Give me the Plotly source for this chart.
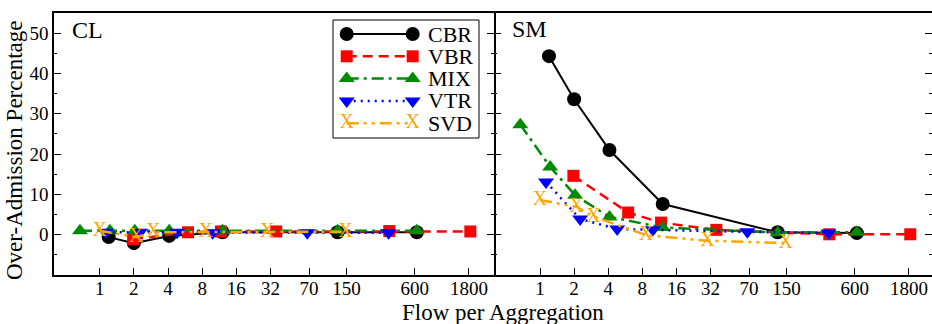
import plotly.graph_objects as go

# ---------------- data ----------------
tick_vals = [1, 2, 4, 8, 16, 32, 70, 150, 600, 1800]
tick_text = ["1", "2", "4", "8", "16", "32", "70", "150", "600", "1800"]

series_names = ["CBR", "VBR", "MIX", "VTR", "SVD"]

x_cbr = [1.2, 2.0, 4.1, 12.1, 125, 625]
x_vbr = [1.97, 6.0, 11.7, 36, 357, 1850]
x_mix = [0.67, 1.23, 2.04, 4.1, 12.1, 125, 625]
x_vtr = [1.13, 2.26, 4.8, 9.9, 67.6, 352]
x_svd = [1.0, 2.1, 2.97, 8.6, 30, 147]

# CL panel
cl_cbr = [-0.6, -2.1, -0.3, 0.6, 0.6, 0.6]
cl_vbr = [-1.1, 0.6, 0.8, 0.8, 0.9, 0.8]
cl_mix = [1.0, 1.0, 1.0, 1.0, 1.0, 1.0, 1.0]
cl_vtr = [0.6, 0.6, 0.6, 0.5, 0.5, 0.5]
cl_svd = [1.0, -0.6, 0.6, 0.6, 0.75, 0.75]

# SM panel
sm_cbr = [44.3, 33.6, 21.0, 7.6, 0.6, 0.4]
sm_vbr = [14.6, 5.5, 3.0, 1.2, 0.1, 0.1]
sm_mix = [27.3, 16.8, 9.8, 4.4, 1.8, 0.5, 0.6]
sm_vtr = [13.1, 3.9, 1.4, 1.2, 0.7, 0.45]
sm_svd = [8.6, 6.9, 4.5, -0.1, -1.5, -2.1]

panel_labels = ["CL", "SM"]
x_title = "Flow per Aggregation"
y_title = "Over-Admission Percentage"

# ---------------- style ----------------
FONT = "Liberation Serif, Times New Roman, serif"
W, H = 932, 324
ML, MR, MT, MB = 54, 0, 13, 49
PW, PH = W - ML - MR, H - MT - MB


def px(x):
    return (x - ML) / PW


def py(y):
    return 1 - (y - MT) / PH


split = px(494)

styles = {
    "CBR": dict(color="black", dash="solid", width=2, symbol="circle", size=14),
    "VBR": dict(color="#ff0000", dash="10px,6px", width=2.5, symbol="square", size=12),
    "MIX": dict(color="#008a00", dash="12px,5px,3px,5px", width=2.5, symbol="triangle-up", size=14),
    "VTR": dict(color="#0000ff", dash="2px,5px", width=2.5, symbol="triangle-down", size=14),
    "SVD": dict(color="#ffa500", dash="12px,5px,3px,5px,3px,5px", width=2.5, symbol=None, size=20),
}

xs = {"CBR": x_cbr, "VBR": x_vbr, "MIX": x_mix, "VTR": x_vtr, "SVD": x_svd}
cl = {"CBR": cl_cbr, "VBR": cl_vbr, "MIX": cl_mix, "VTR": cl_vtr, "SVD": cl_svd}
sm = {"CBR": sm_cbr, "VBR": sm_vbr, "MIX": sm_mix, "VTR": sm_vtr, "SVD": sm_svd}

fig = go.Figure()


def add_series(name, x, y, xa, ya):
    s = styles[name]
    line = dict(color=s["color"], dash=s["dash"], width=s["width"])
    if s["symbol"] is None:
        fig.add_trace(go.Scatter(
            x=x, y=y, xaxis=xa, yaxis=ya, mode="lines+text", line=line,
            text=["X"] * len(x), textposition="middle center",
            textfont=dict(family=FONT, size=s["size"], color=s["color"]),
            showlegend=False, cliponaxis=False))
    else:
        fig.add_trace(go.Scatter(
            x=x, y=y, xaxis=xa, yaxis=ya, mode="lines+markers", line=line,
            marker=dict(symbol=s["symbol"], size=s["size"], color=s["color"],
                        line=dict(width=0)),
            showlegend=False, cliponaxis=False))


for n in series_names:
    add_series(n, xs[n], cl[n], "x", "y")
for n in series_names:
    add_series(n, xs[n], sm[n], "x2", "y2")

# ---------------- legend (inset drawn with its own axes) ----------------
LEG_X0, LEG_X1, LEG_Y0, LEG_Y1 = 333, 479, 20, 138
leg_mx = [346.7, 412.7]
leg_y0, leg_dy = 34, 22.3
for i, n in enumerate(series_names):
    yy = leg_y0 + i * leg_dy
    add_series(n, leg_mx, [yy, yy], "x3", "y3")
    fig.add_annotation(x=426, y=yy, xref="x3", yref="y3", text=n, showarrow=False,
                       xanchor="left", yanchor="middle", height=21,
                       font=dict(family=FONT, size=22, color="black"))

fig.add_shape(type="rect", xref="paper", yref="paper",
              x0=px(LEG_X0), x1=px(LEG_X1), y0=py(LEG_Y1), y1=py(LEG_Y0),
              line=dict(color="black", width=1), fillcolor="rgba(0,0,0,0)")

axis_common = dict(
    showgrid=False, zeroline=False, linecolor="black", linewidth=1.5,
    ticks="inside", ticklen=7, tickcolor="black", tickwidth=1,
    tickfont=dict(family=FONT, size=19, color="black"),
)

xr_left = [-0.403, 3.476]
xr_right = [-0.406, 3.459]
yr = [-10, 55]

fig.update_layout(
    width=W, height=H,
    margin=dict(l=ML, r=MR, t=MT, b=MB),
    plot_bgcolor="white", paper_bgcolor="white",
    font=dict(family=FONT, color="black"),
    showlegend=False,
    xaxis=dict(domain=[0, split], type="log", range=xr_left, tickvals=tick_vals,
               ticktext=tick_text, mirror=True, showline=True, anchor="y",
               ticklabelstandoff=-5, **axis_common),
    xaxis2=dict(domain=[split, 1], type="log", range=xr_right, tickvals=tick_vals,
                ticktext=tick_text, mirror=True, showline=True, anchor="y2",
                ticklabelstandoff=-5, **axis_common),
    yaxis=dict(domain=[0, 1], range=yr, tickvals=[0, 10, 20, 30, 40, 50], mirror="ticks",
               showline=True,
               minor=dict(tickvals=[-5, 5, 15, 25, 35, 45], ticklen=3, ticks="inside",
                          tickcolor="black"),
               anchor="x", **axis_common),
    yaxis2=dict(domain=[0, 1], range=yr, tickvals=[0, 10, 20, 30, 40, 50], mirror="ticks",
                showline=False, showticklabels=False,
                minor=dict(tickvals=[-5, 5, 15, 25, 35, 45], ticklen=3, ticks="inside",
                           tickcolor="black"),
                anchor="x2", **axis_common),
    xaxis3=dict(domain=[px(LEG_X0), px(LEG_X1)], range=[LEG_X0, LEG_X1], visible=False,
                anchor="y3", fixedrange=True),
    yaxis3=dict(domain=[py(LEG_Y1), py(LEG_Y0)], range=[LEG_Y1, LEG_Y0], visible=False,
                anchor="x3", fixedrange=True),
)

fig.add_annotation(x=px(70), y=py(30), xref="paper", yref="paper", text=panel_labels[0],
                   showarrow=False, xanchor="left", yanchor="middle",
                   font=dict(family=FONT, size=24, color="black"))
fig.add_annotation(x=px(510), y=py(29), xref="paper", yref="paper", text=panel_labels[1],
                   showarrow=False, xanchor="left", yanchor="middle",
                   font=dict(family=FONT, size=24, color="black"))
fig.add_annotation(x=px(503), y=py(312), xref="paper", yref="paper", text=x_title,
                   showarrow=False, xanchor="center", yanchor="middle", height=24,
                   font=dict(family=FONT, size=23, color="black"))
fig.add_annotation(x=px(14), y=py(150), xref="paper", yref="paper", text=y_title,
                   showarrow=False, xanchor="center", yanchor="middle", textangle=-90,
                   font=dict(family=FONT, size=23, color="black"))

fig.write_html("out.html")
